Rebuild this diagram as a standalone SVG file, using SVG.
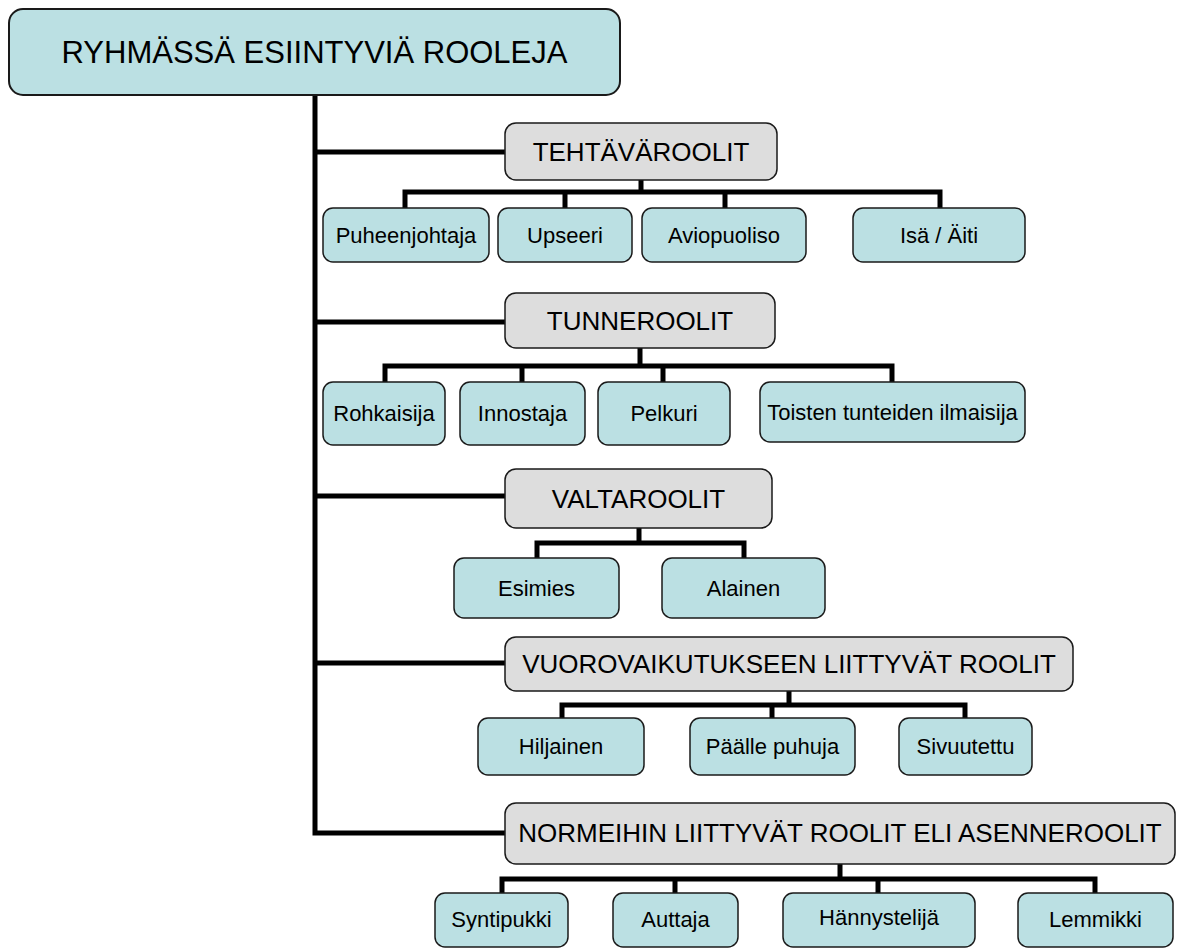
<svg xmlns="http://www.w3.org/2000/svg" width="1181" height="949" viewBox="0 0 1181 949">
<style>
.root{fill:#BBE0E3;stroke:#1a1a1a;stroke-width:2}
.cat{fill:#DDDDDD;stroke:#1a1a1a;stroke-width:1.5}
.leaf{fill:#BBE0E3;stroke:#1a1a1a;stroke-width:1.5}
text{font-family:"Liberation Sans",Arial,sans-serif;fill:#000;text-anchor:middle}
.t0{font-size:31px}
.t1{font-size:26px}
.t2{font-size:22px}
.conn{fill:none;stroke:#000;stroke-width:5;stroke-linejoin:miter;stroke-linecap:butt}
</style>
<rect width="1181" height="949" fill="#fff"/>
<g id="connectors">
<path class="conn" d="M315,95 V833 H505"/>
<path class="conn" d="M315,152 H505"/>
<path class="conn" d="M315,322 H505"/>
<path class="conn" d="M315,496 H505"/>
<path class="conn" d="M315,663 H505"/>
<path class="conn" d="M641,180 V192 M405,208 V192 H940 V208 M565,192 V208 M725,192 V208"/>
<path class="conn" d="M640,348 V366 M385,382 V366 H892 V382 M522,366 V382 M663,366 V382"/>
<path class="conn" d="M639,528 V543 M537,558 V543 H744 V558"/>
<path class="conn" d="M789,691 V705 M562,718 V705 H965 V718 M772,705 V718"/>
<path class="conn" d="M840,864 V879 M502,893 V879 H1095 V893 M675,879 V893 M878,879 V893"/>
</g>
<g id="root"><rect class="root" x="9" y="9" width="611" height="86" rx="14"/><text class="t0" x="314.5" y="63">RYHMÄSSÄ ESIINTYVIÄ ROOLEJA</text></g>
<g id="tehtavaroolit"><rect class="cat" x="505" y="123" width="272" height="57" rx="11"/><text class="t1" x="641" y="161">TEHTÄVÄROOLIT</text></g>
<g id="puheenjohtaja"><rect class="leaf" x="323" y="208" width="166" height="54" rx="10"/><text class="t2" x="406" y="243">Puheenjohtaja</text></g>
<g id="upseeri"><rect class="leaf" x="498" y="208" width="134" height="54" rx="10"/><text class="t2" x="565" y="243">Upseeri</text></g>
<g id="aviopuoliso"><rect class="leaf" x="642" y="208" width="164" height="54" rx="10"/><text class="t2" x="724" y="243">Aviopuoliso</text></g>
<g id="isa-aiti"><rect class="leaf" x="853" y="208" width="172" height="54" rx="10"/><text class="t2" x="939" y="243">Isä / Äiti</text></g>
<g id="tunneroolit"><rect class="cat" x="505" y="293" width="270" height="55" rx="11"/><text class="t1" x="640" y="330">TUNNEROOLIT</text></g>
<g id="rohkaisija"><rect class="leaf" x="323" y="382" width="122" height="63" rx="10"/><text class="t2" x="384" y="421">Rohkaisija</text></g>
<g id="innostaja"><rect class="leaf" x="460" y="382" width="125" height="63" rx="10"/><text class="t2" x="522.5" y="421">Innostaja</text></g>
<g id="pelkuri"><rect class="leaf" x="598" y="382" width="132" height="63" rx="10"/><text class="t2" x="664" y="421">Pelkuri</text></g>
<g id="toisten"><rect class="leaf" x="760" y="382" width="265" height="60" rx="10"/><text class="t2" x="892.5" y="420">Toisten tunteiden ilmaisija</text></g>
<g id="valtaroolit"><rect class="cat" x="505" y="469" width="267" height="59" rx="11"/><text class="t1" x="638.5" y="508">VALTAROOLIT</text></g>
<g id="esimies"><rect class="leaf" x="454" y="558" width="165" height="60" rx="10"/><text class="t2" x="536.5" y="596">Esimies</text></g>
<g id="alainen"><rect class="leaf" x="662" y="558" width="163" height="60" rx="10"/><text class="t2" x="743.5" y="596">Alainen</text></g>
<g id="vuorovaikutus"><rect class="cat" x="505" y="637" width="568" height="54" rx="11"/><text class="t1" x="789" y="673">VUOROVAIKUTUKSEEN LIITTYVÄT ROOLIT</text></g>
<g id="hiljainen"><rect class="leaf" x="478" y="718" width="166" height="57" rx="10"/><text class="t2" x="561" y="754">Hiljainen</text></g>
<g id="paalle-puhuja"><rect class="leaf" x="690" y="718" width="165" height="57" rx="10"/><text class="t2" x="772.5" y="754">Päälle puhuja</text></g>
<g id="sivuutettu"><rect class="leaf" x="899" y="718" width="133" height="57" rx="10"/><text class="t2" x="965.5" y="754">Sivuutettu</text></g>
<g id="normeihin"><rect class="cat" x="505" y="803" width="670" height="61" rx="11"/><text class="t1" x="840" y="842">NORMEIHIN LIITTYVÄT ROOLIT ELI ASENNEROOLIT</text></g>
<g id="syntipukki"><rect class="leaf" x="435" y="893" width="133" height="54" rx="10"/><text class="t2" x="501.5" y="927">Syntipukki</text></g>
<g id="auttaja"><rect class="leaf" x="613" y="893" width="125" height="54" rx="10"/><text class="t2" x="675.5" y="927">Auttaja</text></g>
<g id="hannystelija"><rect class="leaf" x="783" y="893" width="192" height="54" rx="10"/><text class="t2" x="879" y="925">Hännystelijä</text></g>
<g id="lemmikki"><rect class="leaf" x="1018" y="893" width="155" height="54" rx="10"/><text class="t2" x="1095.5" y="927">Lemmikki</text></g>
</svg>
